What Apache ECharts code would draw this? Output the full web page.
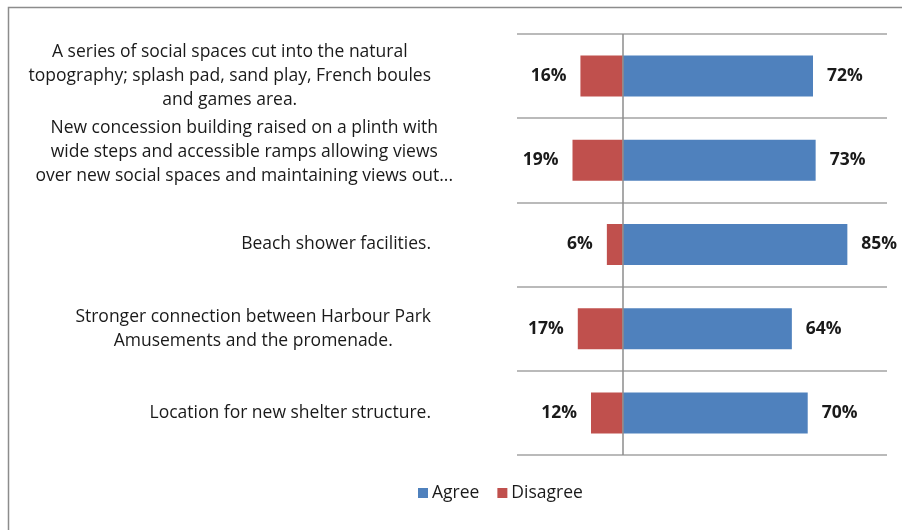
<!DOCTYPE html>
<html>
<head>
<meta charset="utf-8">
<script src="https://cdn.jsdelivr.net/npm/echarts@6/dist/echarts.min.js"></script>
<style>
html,body{margin:0;padding:0;background:#fff;}
#chart{width:902px;height:530px;}
</style>
</head>
<body>
<div id="chart"></div>
<script>
var categories = [
  "A series of social spaces cut into the natural\ntopography; splash pad, sand play, French boules\nand games area.",
  "New concession building raised on a plinth with\nwide steps and accessible ramps allowing views\nover new social spaces and maintaining views out...",
  "Beach shower facilities.",
  "Stronger connection between Harbour Park\nAmusements and the promenade.",
  "Location for new shelter structure."
];
var agree = [72, 73, 85, 64, 70];
var disagree = [16, 19, 6, 17, 12];

var FONT = '"Open Sans"';
var chart = echarts.init(document.getElementById('chart'), null, {renderer: 'canvas'});

// the second label overflows its slot in the original and sits slightly up and right
var categoryItems = categories.map(function (c, i) {
  if (i === 1) return {value: c, textStyle: {padding: [0, -22, 16, 0]}};
  return c;
});

var option = {
  animation: false,
  backgroundColor: '#fff',
  textStyle: {fontFamily: FONT},
  graphic: [
    {type: 'polyline', shape: {points: [[8.5, 530], [8.5, 7.5], [902, 7.5]]},
     style: {stroke: '#8c8c8c', lineWidth: 1.5, fill: null}, silent: true}
  ],
  legend: {
    left: 413, top: 479,
    icon: 'rect', itemWidth: 10, itemHeight: 10, itemGap: 18,
    textStyle: {fontFamily: FONT, fontSize: 17.5, color: '#1a1a1a', padding: [0, 0, 0, -1]},
    data: ['Agree', 'Disagree']
  },
  grid: {left: 517, right: 15, top: 34, bottom: 75, containLabel: false},
  xAxis: {
    type: 'value', min: -40, max: 100, interval: 20,
    axisLine: {show: false}, axisTick: {show: false}, axisLabel: {show: false},
    splitLine: {show: false}
  },
  yAxis: {
    type: 'category', inverse: true, data: categoryItems,
    axisLine: {show: false}, axisTick: {show: false},
    splitLine: {show: true, lineStyle: {color: '#a3a3a3', width: 1.5}},
    axisLabel: {
      margin: 86,
      formatter: function (v) {
        return v.split('\n').map(function (l) { return '{c|' + l + '}'; }).join('\n');
      },
      rich: {c: {align: 'center', fontFamily: FONT, fontSize: 17.5, color: '#1a1a1a', lineHeight: 24}}
    }
  },
  series: [
    {
      name: 'Agree', type: 'bar', barWidth: 41, barGap: '-100%',
      itemStyle: {color: '#4f81bd'},
      data: agree,
      label: {show: true, position: 'right', distance: 14, formatter: '{c}%',
              fontFamily: FONT, fontWeight: 'bold', fontSize: 17.5, color: '#1a1a1a'},
      markLine: {
        silent: true, symbol: 'none', label: {show: false},
        lineStyle: {color: '#8c8c8c', width: 1.5, type: 'solid'},
        data: [{xAxis: 0}]
      },
      z: 2
    },
    {
      name: 'Disagree', type: 'bar', barWidth: 41, barGap: '-100%',
      itemStyle: {color: '#c0504d'},
      data: disagree.map(function (v) { return -v; }),
      label: {show: true, position: 'left', distance: 14,
              formatter: function (p) { return Math.abs(p.value) + '%'; },
              fontFamily: FONT, fontWeight: 'bold', fontSize: 17.5, color: '#1a1a1a'},
      z: 2
    }
  ]
};
chart.setOption(option);
</script>
</body>
</html>
